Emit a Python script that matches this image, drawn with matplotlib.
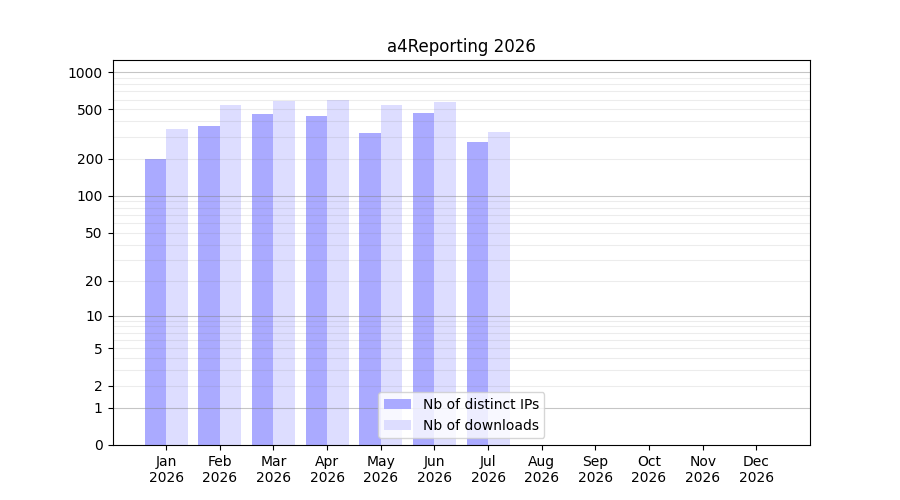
import matplotlib
matplotlib.use('Agg')
import matplotlib.pyplot as plt
import numpy as np

MONTHS = ['Jan', 'Feb', 'Mar', 'Apr', 'May', 'Jun', 'Jul', 'Aug', 'Sep', 'Oct', 'Nov', 'Dec']
YEAR = 2026
distinct_ips = [200, 370, 460, 440, 320, 470, 275, 0, 0, 0, 0, 0]
downloads = [350, 540, 580, 600, 540, 570, 330, 0, 0, 0, 0, 0]
y_ticks = [0, 1, 2, 5, 10, 20, 50, 100, 200, 500, 1000]


def fwd(v):
    return np.log10(np.maximum(v, 0) + 1)


def inv(v):
    return 10 ** v - 1


fig, ax = plt.subplots(figsize=(9, 5), dpi=100)
ax.set_yscale('function', functions=(fwd, inv))

x = np.arange(len(MONTHS))
w = 0.4
ax.bar(x - w / 2, distinct_ips, w, color='#aaaaff', label='Nb of distinct IPs', zorder=1)
ax.bar(x + w / 2, downloads, w, color='#ddddff', label='Nb of downloads', zorder=1)

# light grid on every 1..9 x 10^k, darker on decades
minor = [m * 10 ** k for k in range(3) for m in range(2, 10)]
for v in minor:
    ax.axhline(v, color='gray', lw=0.8, alpha=0.15, zorder=2)
for v in [1, 10, 100, 1000]:
    ax.axhline(v, color='gray', lw=0.8, alpha=0.45, zorder=2)

ax.set_yticks(y_ticks)
ax.set_yticklabels([str(t) for t in y_ticks])
ax.yaxis.set_minor_locator(matplotlib.ticker.NullLocator())
ax.set_ylim(0, 1250)

ax.set_xticks(x)
ax.set_xticklabels([f'{m}\n{YEAR}' for m in MONTHS])
ax.set_xlim(-1, 12)

ax.set_title(f'a4Reporting {YEAR}')
ax.legend(loc='lower center')

plt.savefig('out.png')
plt.close()
